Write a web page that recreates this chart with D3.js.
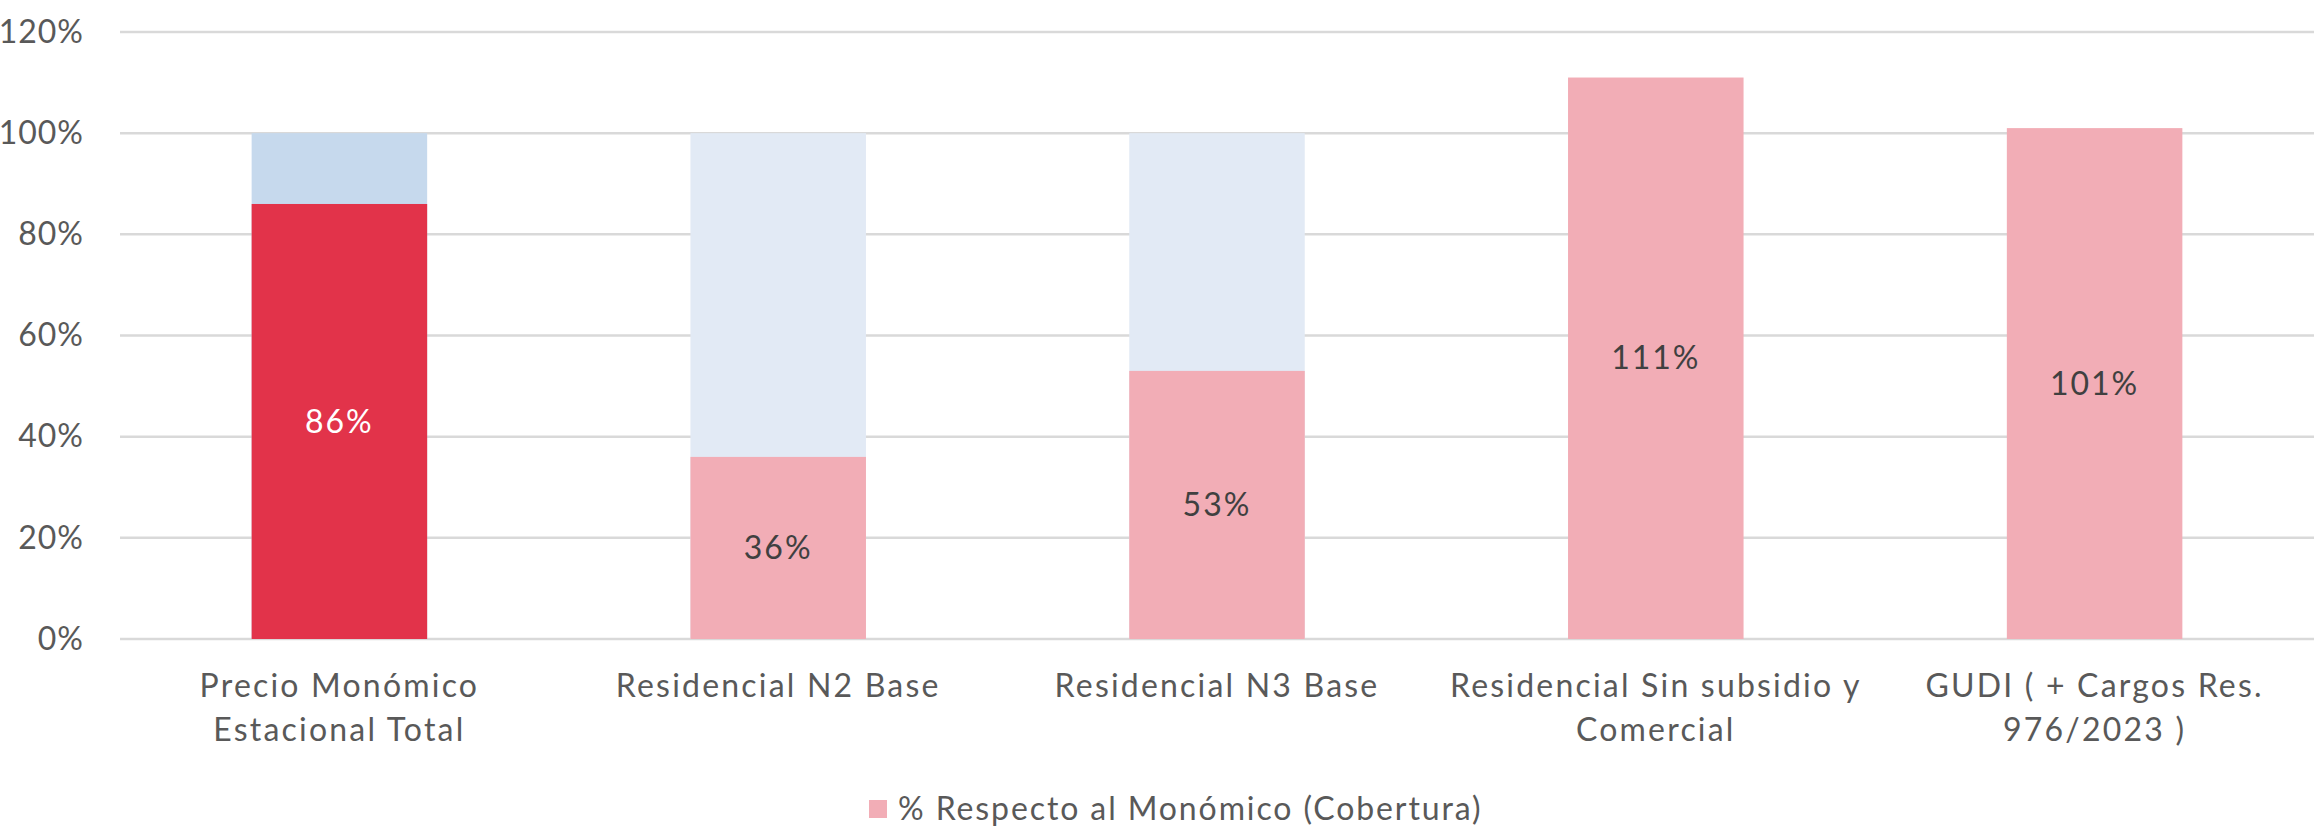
<!DOCTYPE html>
<html>
<head>
<meta charset="utf-8">
<script src="https://cdn.jsdelivr.net/npm/d3@7"></script>
<style>
  body { margin: 0; background: #fff; }
  text { font-family: Lato, "Open Sans", sans-serif; }
</style>
</head>
<body>
<div id="chart"></div>
<script>
// categories (line breaks as in the original labels)
var categories = [
    ["Precio Monómico", "Estacional Total"],
    ["Residencial N2 Base"],
    ["Residencial N3 Base"],
    ["Residencial Sin subsidio y", "Comercial"],
    ["GUDI ( + Cargos Res.", "976/2023 )"]
];
// % respecto al monómico (cobertura)
var coverage = [86, 36, 53, 111, 101];
// reference bar behind the first three categories (100%)
var reference = [100, 100, 100, null, null];
var yTicks = [0, 20, 40, 60, 80, 100, 120];
var legendLabel = "% Respecto al Monómico (Cobertura)";

var W = 2317, H = 829;
var m = {t: 32, r: 3, b: 190, l: 120};
var fontSize = 32;

var svg = d3.select("#chart").append("svg")
    .attr("width", W)
    .attr("height", H);

var keys = categories.map(function(d) { return d.join(" "); });

var x = d3.scaleBand().domain(keys)
    .range([m.l, W - m.r])
    .paddingInner(0.6)
    .paddingOuter(0.3);

var y = d3.scaleLinear().domain([0, 120]).range([H - m.b, m.t]);

// gridlines
svg.append("g").selectAll("line").data(yTicks).enter()
    .append("line")
    .attr("x1", m.l).attr("x2", W - m.r)
    .attr("y1", function(d) { return y(d); })
    .attr("y2", function(d) { return y(d); })
    .attr("stroke", "#d9d9d9")
    .attr("stroke-width", 2.5);

// y axis labels
var yAxis = svg.append("g")
    .attr("transform", "translate(84,0)")
    .call(d3.axisLeft(y).tickValues(yTicks).tickSize(0).tickPadding(0)
        .tickFormat(function(d) { return d + "%"; }));
yAxis.select(".domain").remove();
yAxis.selectAll("text")
    .attr("font-size", fontSize)
    .attr("font-family", "Lato, 'Open Sans', sans-serif")
    .attr("letter-spacing", 1)
    .attr("fill", "#595959");

// background (100%) bars
var bg = svg.append("g");
reference.forEach(function(d, i) {
    if (d == null) return;
    bg.append("rect")
        .attr("x", x(keys[i]))
        .attr("y", y(d))
        .attr("width", x.bandwidth())
        .attr("height", y(0) - y(d))
        .attr("fill", i === 0 ? "#c6d9ed" : "#e2eaf5");
});

// coverage bars
var bars = svg.append("g").selectAll(".bar").data(coverage).enter()
    .append("g").attr("class", "bar");

bars.append("rect")
    .attr("x", function(d, i) { return x(keys[i]); })
    .attr("y", function(d) { return y(d); })
    .attr("width", x.bandwidth())
    .attr("height", function(d) { return y(0) - y(d); })
    .attr("fill", function(d, i) { return i === 0 ? "#e2334a" : "#f2adb6"; });

bars.append("text")
    .text(function(d) { return d + "%"; })
    .attr("x", function(d, i) { return x(keys[i]) + x.bandwidth() / 2; })
    .attr("y", function(d) { return (y(d) + y(0)) / 2; })
    .attr("dy", "0.35em")
    .attr("text-anchor", "middle")
    .attr("font-size", fontSize)
    .attr("letter-spacing", 2)
    .attr("fill", function(d, i) { return i === 0 ? "#ffffff" : "#404040"; });

// x axis labels
var xl = svg.append("g").selectAll("text").data(categories).enter()
    .append("text")
    .attr("text-anchor", "middle")
    .attr("font-size", fontSize)
    .attr("letter-spacing", 2.2)
    .attr("fill", "#595959");

xl.selectAll("tspan").data(function(d, i) {
        return d.map(function(s) { return {s: s, i: i}; });
    }).enter()
    .append("tspan")
    .attr("x", function(d) { return x(keys[d.i]) + x.bandwidth() / 2; })
    .attr("y", function(d, j) { return 697 + j * 43.5; })
    .text(function(d) { return d.s; });

// legend
var lg = svg.append("g").attr("transform", "translate(869,800)");
lg.append("rect").attr("width", 18).attr("height", 18).attr("fill", "#f2adb6");
lg.append("text")
    .attr("x", 29).attr("y", 9).attr("dy", "0.35em")
    .attr("font-size", fontSize)
    .attr("letter-spacing", 1.9)
    .attr("fill", "#595959")
    .text(legendLabel);
</script>
</body>
</html>
